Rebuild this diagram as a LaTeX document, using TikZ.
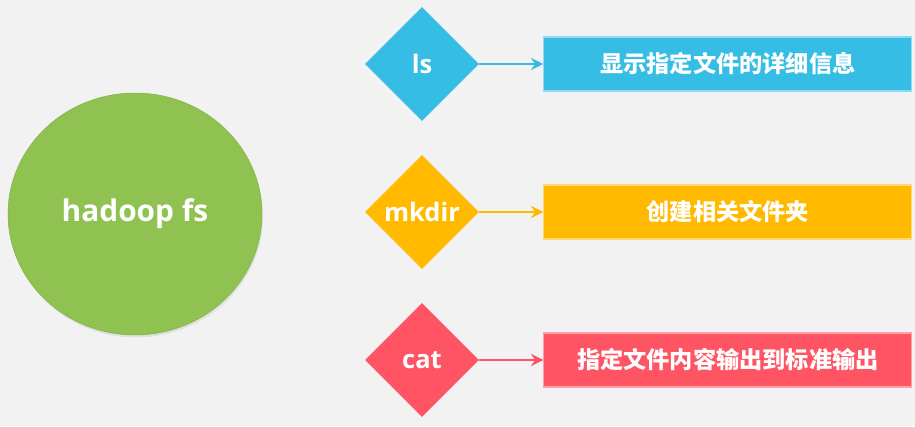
\documentclass[tikz,border=0pt]{standalone}
\usepackage{fontspec}
\setmainfont{Open Sans}
\newfontfamily\cjk{Noto Sans CJK SC}
\usetikzlibrary{shapes.geometric,positioning,arrows.meta,shadows}

\definecolor{hdgreen}{RGB}{143,194,80}
\definecolor{lsblue}{RGB}{53,189,230}
\definecolor{mkyellow}{RGB}{255,186,0}
\definecolor{catred}{RGB}{255,84,99}
\definecolor{bggray}{RGB}{242,242,242}

\begin{document}
\begin{tikzpicture}[x=0.02cm, y=-0.02cm, node distance=1.28cm, auto,
	hdnode/.style={ellipse,fill=hdgreen,draw=hdgreen!92!black,line width=0.3pt,text=white,
		minimum width=5.08cm,minimum height=4.84cm,font=\bfseries\fontsize{17}{20}\selectfont,
		drop shadow={opacity=0.15,shadow xshift=0.02cm,shadow yshift=-0.05cm}},
	cmdnode/.style={diamond,aspect=1,fill=#1,text=white,inner sep=0pt,
		minimum width=2.28cm,minimum height=2.28cm,font=\bfseries\fontsize{14.5}{17}\selectfont},
	descnode/.style={rectangle,fill=#1,draw=#1!55!white,line width=0.6pt,text=white,
		minimum width=7.36cm,minimum height=1.08cm,font=\cjk\bfseries\fontsize{13.2}{16}\selectfont},
	cmdarrow/.style={-{Stealth[length=7pt,width=7pt]},draw=#1,line width=1.6pt}]
	\useasboundingbox[fill=bggray] (0,0) rectangle (915,426);
	\node[hdnode] (HDFS) at (135,214) {hadoop fs};
	\node[cmdnode=lsblue] (LS) at (422,64) {ls};
	\node[cmdnode=mkyellow] (MKDIR) at (422,212) {mkdir};
	\node[cmdnode=catred] (CAT) at (422,360) {cat};
	\node[descnode=lsblue] (LSDesc) [right = of LS] {显示指定文件的详细信息};
	\node[descnode=mkyellow] (MKDIRDesc) [right = of MKDIR] {创建相关文件夹};
	\node[descnode=catred] (CATDesc) [right = of CAT] {指定文件内容输出到标准输出};
	\path[cmdarrow=lsblue] (LS) edge (LSDesc);
	\path[cmdarrow=mkyellow] (MKDIR) edge (MKDIRDesc);
	\path[cmdarrow=catred] (CAT) edge (CATDesc);
\end{tikzpicture}
\end{document}
